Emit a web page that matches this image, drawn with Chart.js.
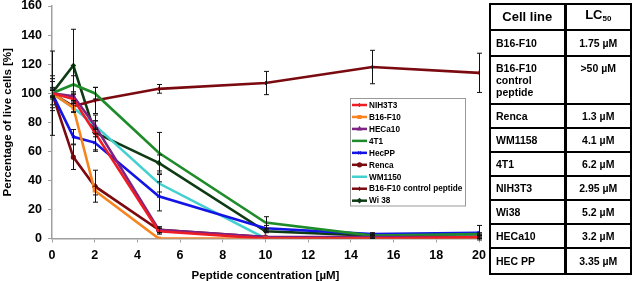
<!DOCTYPE html>
<html><head><meta charset="utf-8">
<script src="https://cdn.jsdelivr.net/npm/chart.js@4/dist/chart.umd.min.js"></script>
<style>
html,body{margin:0;padding:0;background:#fff;}
#wrap{position:relative;width:632px;height:281px;overflow:hidden;}
#c{position:absolute;left:0;top:0;}
#tbl{position:absolute;left:489px;top:3px;border-collapse:collapse;table-layout:fixed;
  font-family:"Liberation Sans",Arial,sans-serif;font-weight:bold;color:#000;}
#tbl td{border:2px solid #000;padding:0 0 0 5px;vertical-align:middle;font-size:10.5px;line-height:12px;}
#tbl td.v{text-align:center;padding:0;border-left:3px solid #000;}
#tbl tr.h td{font-size:13px;text-align:center;padding:0;}
#tbl td.top{vertical-align:top;padding-top:5px;}
sub{font-size:8px;vertical-align:-2px;}
</style></head>
<body><div id="wrap"><canvas id="c" width="632" height="281"></canvas><table id="tbl"></table></div>
<script>
// ---- data ----
const concentrations = [0, 1, 2, 5, 10, 15, 20];
const seriesNames = ["NIH3T3", "B16-F10", "HECa10", "4T1", "HecPP", "Renca", "WM1150", "B16-F10 control peptide", "Wi 38"];
const nih3t3  = [100, 96, 73, 5, 0, 0, 1];
const b16f10  = [100, 90, 33, 0, 0, 0, 0];
const heca10  = [100, 98, 78, 6, 1, 1, 1];
const t4t1    = [100, 106, 100, 59, 11, 2, 3];
const hecpp   = [100, 70, 66, 29, 7, 3, 4];
const renca   = [100, 56, 36, 6, 1, 0, 0];
const wm1150  = [100, 90, 78, 38, 0, 1, 2];
const control = [100, 91, 95, 103, 107, 118, 114];
const wi38    = [100, 119, 73, 52, 5, 2, 2];
// error bar half-lengths
const nih3t3Err  = [4, 3, 3, 2, 0, 0, 1];
const b16f10Err  = [2, 3, 3, 0, 0, 0, 0];
const heca10Err  = [2, 3, 3, 2, 0, 0, 0];
const t4t1Err    = [12, 6, 4, 14, 4, 1, 1];
const hecppErr   = [8, 5, 6, 10, 2, 1, 5];
const rencaErr   = [10, 8.5, 11, 2, 0, 0, 0];
const wm1150Err  = [2, 3, 3, 6, 0, 1, 1];
const controlErr = [3, 4, 9, 3, 8, 11.5, 13.5];
const wi38Err    = [29, 25, 12, 5.5, 1, 1, 1];
// axis ticks and table
const yTicks = [0, 20, 40, 60, 80, 100, 120, 140, 160];
const xTicks = [0, 2, 4, 6, 8, 10, 12, 14, 16, 18, 20];
const tableCellLines = ["B16-F10", "B16-F10<br>control<br>peptide", "Renca", "WM1158", "4T1", "NIH3T3", "Wi38", "HECa10", "HEC PP"];
const tableLC50 = ["1.75 µM", ">50 µM", "1.3 µM", "4.1 µM", "6.2 µM", "2.95 µM", "5.2 µM", "3.2 µM", "3.35 µM"];

// ---- table ----
const rowH = [26, 26, 48, 24, 24, 24, 24, 24, 24, 26];
let html = '<colgroup><col style="width:75px"><col style="width:66px"></colgroup>';
html += '<tr class="h" style="height:' + rowH[0] + 'px"><td>Cell line</td><td class="v">LC<sub>50</sub></td></tr>';
tableCellLines.forEach((c, i) => {
  const multi = c.indexOf('<br>') >= 0;
  html += '<tr style="height:' + rowH[i + 1] + 'px"><td class="' + (multi ? 'top' : '') + '">' + c +
          '</td><td class="v ' + (multi ? 'top' : '') + '">' + tableLC50[i] + '</td></tr>';
});
document.getElementById('tbl').innerHTML = html;

// ---- chart ----
const valueSets = [nih3t3, b16f10, heca10, t4t1, hecpp, renca, wm1150, control, wi38];
const errSets = [nih3t3Err, b16f10Err, heca10Err, t4t1Err, hecppErr, rencaErr, wm1150Err, controlErr, wi38Err];
const colors = ["#ee1c24", "#f7841f", "#7d2384", "#1e8c2a", "#1414e6", "#7a0a10", "#45d0d0", "#7a0a10", "#0e3a14"];
const pstyles = ["cross", "rect", "triangle", "dash", "crossRot", "circle", "dash", "cross", "rectRot"];

const datasets = seriesNames.map((name, i) => ({
  label: name,
  data: concentrations.map((x, j) => ({x: x, y: valueSets[i][j]})),
  errors: errSets[i],
  borderColor: colors[i],
  backgroundColor: colors[i],
  borderWidth: 2.6,
  pointStyle: pstyles[i],
  pointRadius: 2,
  pointBorderWidth: 1.2,
  tension: 0
}));

const errorBars = {
  id: 'errorBars',
  afterDatasetsDraw(chart) {
    const ctx = chart.ctx, xs = chart.scales.x, ys = chart.scales.y;
    ctx.save();
    ctx.strokeStyle = '#111';
    ctx.lineWidth = 1;
    chart.data.datasets.forEach(ds => {
      ds.data.forEach((p, j) => {
        const e = ds.errors[j];
        if (!e) return;
        const x = Math.round(xs.getPixelForValue(p.x)) + 0.5;
        const y1 = ys.getPixelForValue(p.y + e), y2 = ys.getPixelForValue(p.y - e);
        ctx.beginPath();
        ctx.moveTo(x, y1); ctx.lineTo(x, y2);
        ctx.moveTo(x - 2.5, y1); ctx.lineTo(x + 2.5, y1);
        ctx.moveTo(x - 2.5, y2); ctx.lineTo(x + 2.5, y2);
        ctx.stroke();
      });
    });
    ctx.restore();
  }
};

const boxLegend = {
  id: 'boxLegend',
  afterDraw(chart) {
    const ctx = chart.ctx;
    const bx = 350, by = 98.5, bw = 115, bh = 107.5;
    ctx.save();
    ctx.fillStyle = '#fff';
    ctx.fillRect(bx, by, bw, bh);
    ctx.strokeStyle = '#999';
    ctx.lineWidth = 1;
    ctx.strokeRect(bx + 0.5, by, bw, bh);
    ctx.font = 'bold 8.2px "Liberation Sans", Arial, sans-serif';
    ctx.textBaseline = 'middle';
    chart.data.datasets.forEach((ds, i) => {
      const y = 105 + i * 11.96;
      ctx.strokeStyle = ds.borderColor;
      ctx.lineWidth = 2.5;
      ctx.beginPath(); ctx.moveTo(352, y); ctx.lineTo(367, y); ctx.stroke();
      ctx.fillStyle = ds.borderColor;
      ctx.lineWidth = 1.2;
      Chart.helpers.drawPoint(ctx, {pointStyle: ds.pointStyle, radius: 2, borderWidth: 1.2, rotation: 0}, 359.5, y);
      ctx.fillStyle = '#000';
      ctx.fillText(ds.label, 369, y + 0.5);
    });
    ctx.restore();
  }
};

new Chart(document.getElementById('c'), {
  type: 'line',
  data: {datasets: datasets},
  plugins: [errorBars, boxLegend],
  options: {
    responsive: false,
    animation: false,
    layout: {padding: {left: 0, right: 153, top: 6, bottom: 0}},
    plugins: {legend: {display: false}, tooltip: {enabled: false}},
    scales: {
      x: {
        type: 'linear', min: 0, max: 20,
        afterBuildTicks(s) { s.ticks = xTicks.map(v => ({value: v})); },
        afterFit(s) { s.height = 42.5; s.paddingLeft = 0; s.paddingRight = 0; },
        border: {color: '#a0a0a0', width: 1.5},
        grid: {drawOnChartArea: false, tickLength: 4, color: '#a0a0a0'},
        ticks: {color: '#000', padding: 6, maxRotation: 0, font: {family: '"Liberation Sans", Arial', weight: 'bold', size: 12.5}},
        title: {display: true, text: 'Peptide concentration [µM]', color: '#000', padding: {top: 0, bottom: -2},
                font: {family: '"Liberation Sans", Arial', weight: 'bold', size: 11.5}}
      },
      y: {
        min: 0, max: 160,
        afterBuildTicks(s) { s.ticks = yTicks.map(v => ({value: v})); },
        afterFit(s) { s.width = 52; s.paddingTop = 0; s.paddingBottom = 0; },
        border: {color: '#a0a0a0', width: 1.5},
        grid: {drawOnChartArea: false, tickLength: 4, color: '#a0a0a0'},
        ticks: {color: '#000', padding: 6, font: {family: '"Liberation Sans", Arial', weight: 'bold', size: 12.5}},
        title: {display: true, text: 'Percentage of live cells [%]', color: '#000', padding: {top: 1, bottom: 0},
                font: {family: '"Liberation Sans", Arial', weight: 'bold', size: 11.5}}
      }
    }
  }
});
</script></body></html>
